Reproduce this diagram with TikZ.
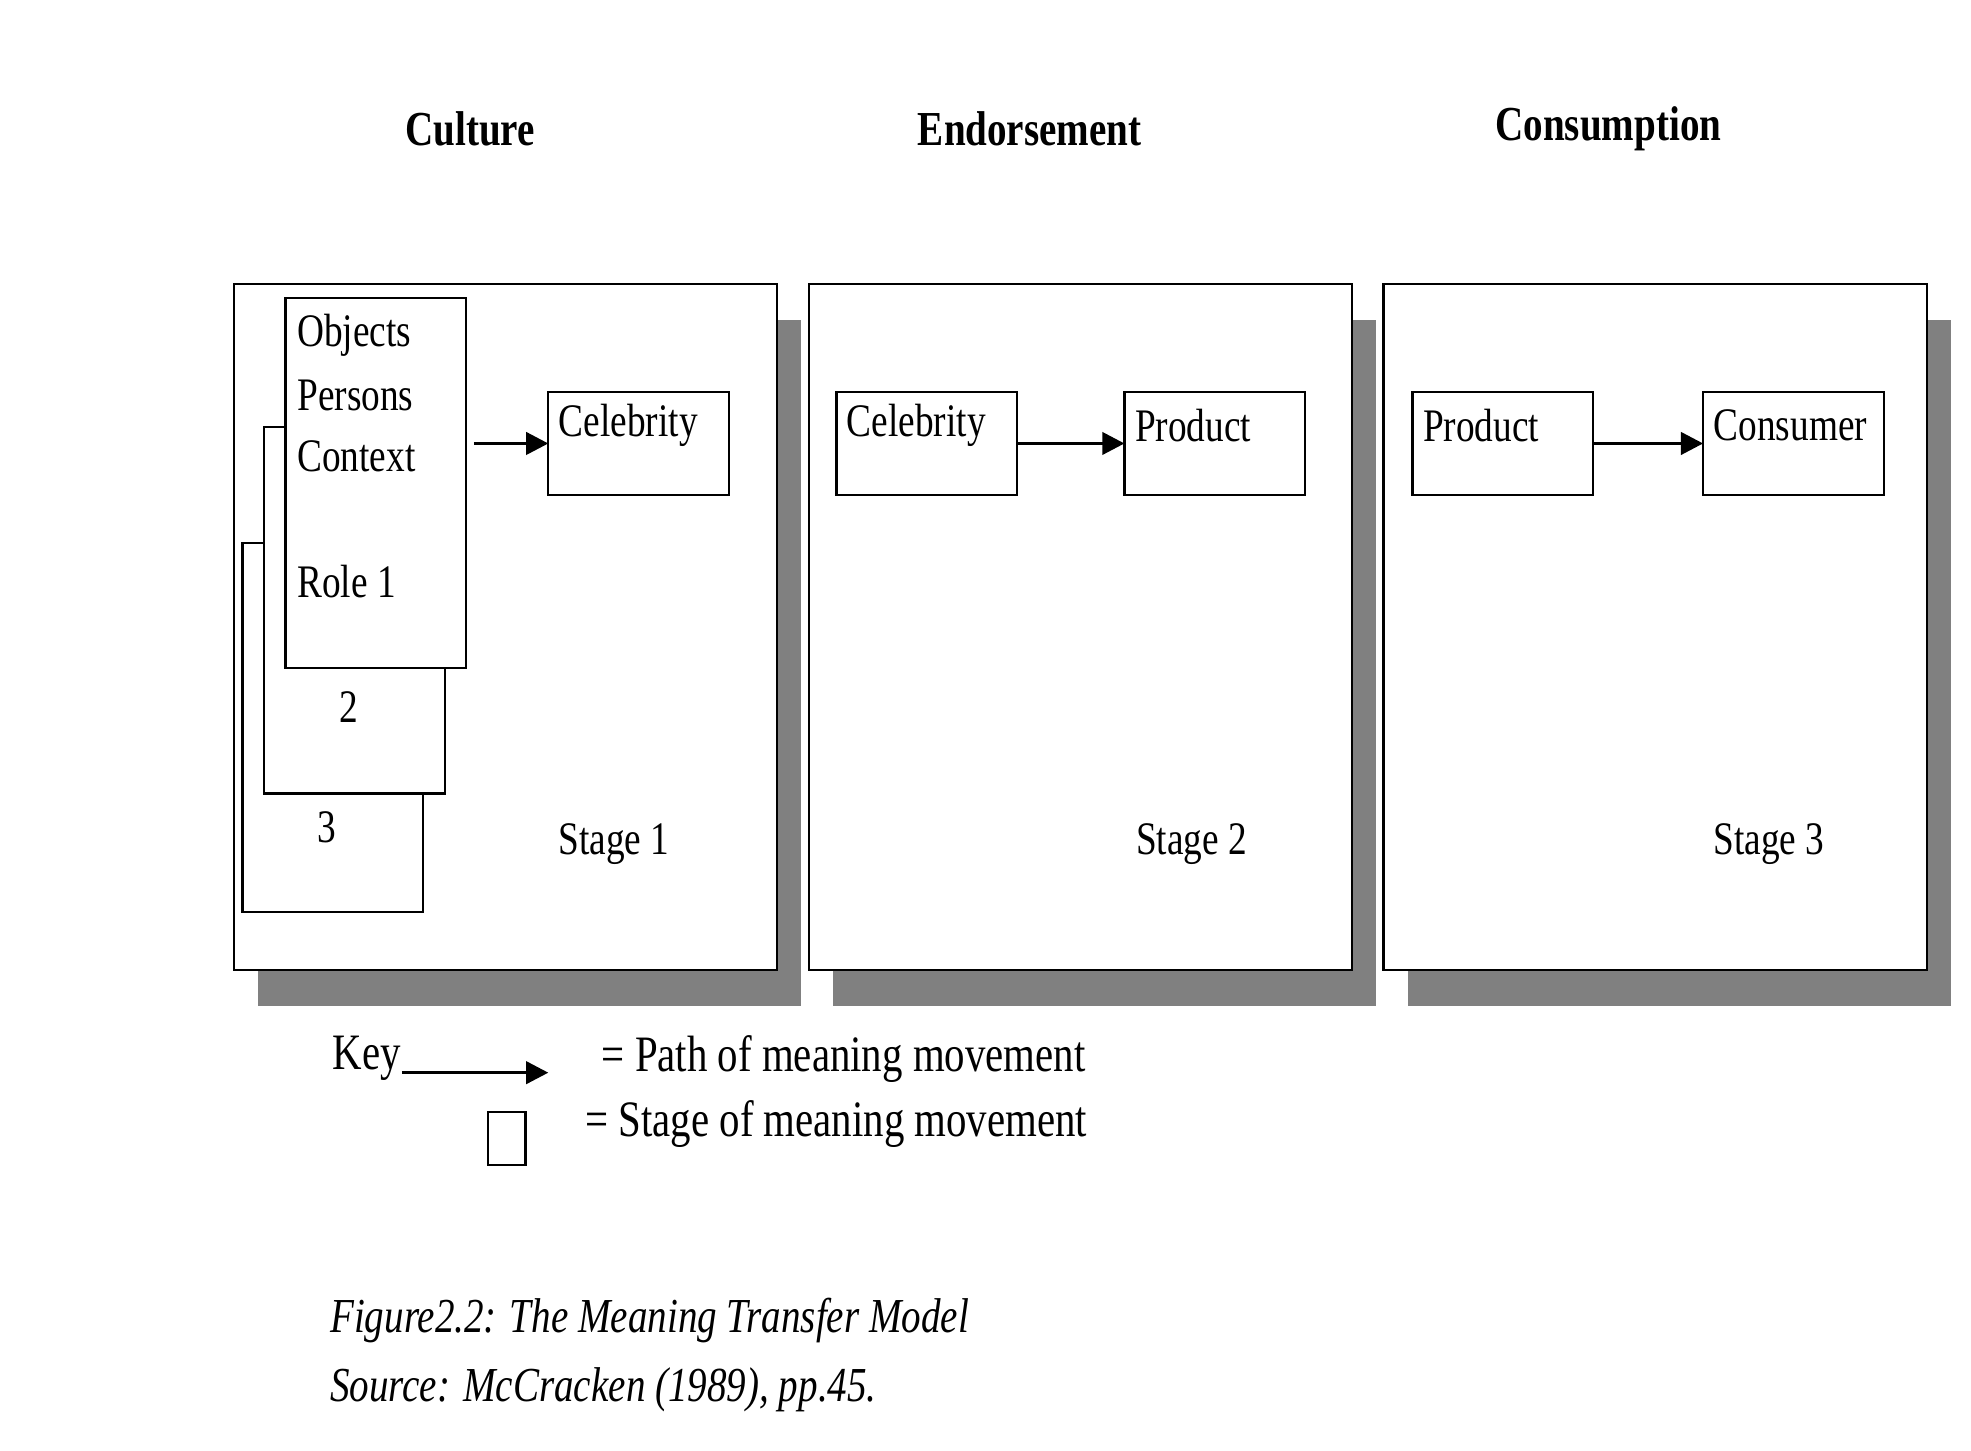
\documentclass[tikz,border=0pt]{standalone}
\usepackage{fontspec}
\setmainfont{Liberation Serif}[FakeStretch=0.8]
\usetikzlibrary{arrows.meta}
\begin{document}
\begin{tikzpicture}[x=0.02cm,y=-0.02cm,
  box/.style={draw,line width=1pt,fill=white},
  shadow/.style={fill=black!50,draw=none},
  txt/.style={inner sep=0pt,font=\fontsize{21}{25}\selectfont},
  ttl/.style={inner sep=0pt,font=\fontsize{22}{26}\selectfont\bfseries},
  arr/.style={line width=1.6pt,-{Triangle[length=10pt,width=10pt]}}]
\useasboundingbox (0,0) rectangle (1560,1148);
\fill[white] (0,0) rectangle (1560,1148);
\node[ttl] (t1) at (372,102) {Culture};
\node[ttl] (t2) at (815,102) {Endorsement};
\node[ttl] (t3) at (1273,102) {Consumption};
\foreach \x/\n in {185/1,640/2,1095/3}{
  \fill[shadow] (\x+19,253) rectangle (\x+449,796);
  \draw[box] (\x,225) rectangle (\x+430,768);
}
\node[txt] (s1) at (486,668) {Stage 1};
\node[txt] (s2) at (943,668) {Stage 2};
\node[txt] (s3) at (1400,668) {Stage 3};
% stacked cards
\draw[box] (192,430) rectangle (335,722);
\node[txt] (c3) at (259,655) {3};
\draw[box] (209,338) rectangle (352,628);
\node[txt] (c2) at (276,560) {2};
\draw[box] (226,236) rectangle (369,529);
\node[txt,anchor=west] (o1) at (235,265) {Objects};
\node[txt,anchor=west] (o2) at (235,313) {Persons};
\node[txt,anchor=west] (o3) at (235,361) {Context};
\node[txt,anchor=west] (o4) at (235,460) {Role 1};
\coordinate (cardR) at (375,351);
% small boxes
\foreach \nm/\x/\lab in {b1/434/Celebrity,b2/662/Celebrity,b3/890/Product,b4/1118/Product,b5/1348/Consumer}{
  \draw[box] (\x,310) rectangle (\x+143,392);
  \coordinate (\nm W) at (\x,351);
  \coordinate (\nm E) at (\x+143,351);
  \node[txt,anchor=west] (\nm) at (\x+8,337) {\lab};
}
\draw[arr] (cardR) -- (b1W);
\draw[arr] (b2E) -- (b3W);
\draw[arr] (b4E) -- (b5W);
% key
\node[txt,anchor=west,font=\fontsize{23}{27}\selectfont] (key) at (263,838) {Key};
\coordinate (k1) at (318,849); \coordinate (k2) at (434,849);
\draw[arr] (k1) -- (k2);
\node[txt,anchor=west,font=\fontsize{23}{27}\selectfont] (kp) at (476,838) {= Path of meaning movement};
\draw[line width=1pt] (386,880) rectangle (416,922);
\node[txt,anchor=west,font=\fontsize{23}{27}\selectfont] (ks) at (463,890) {= Stage of meaning movement};
\node[txt,anchor=west,font=\fontsize{22}{26}\selectfont\itshape] (cap1) at (261,1045) {Figure2.2: The Meaning Transfer Model};
\node[txt,anchor=west,font=\fontsize{22}{26}\selectfont\itshape] (cap2) at (261,1100) {Source: McCracken (1989), pp.45.};
\end{tikzpicture}
\end{document}
